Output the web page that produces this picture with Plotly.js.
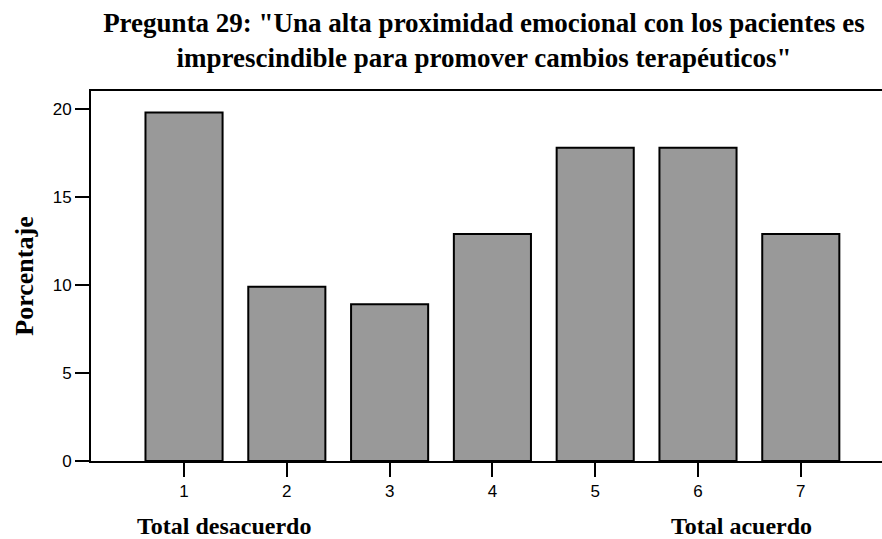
<!DOCTYPE html>
<html>
<head>
<meta charset="utf-8">
<script src="https://cdn.plot.ly/plotly-3.0.1.min.js"></script>
<style>html,body{margin:0;padding:0;background:#fff;}#chart{width:882px;height:539px;}</style>
</head>
<body>
<div id="chart"></div>
<script>
var categories = [1, 2, 3, 4, 5, 6, 7];
var percentages = [19.8, 9.9, 8.9, 12.9, 17.8, 17.8, 12.9];
var yTickValues = [0, 5, 10, 15, 20];
var titleText = 'Pregunta 29: "Una alta proximidad emocional con los pacientes es<br>imprescindible para promover cambios terapéuticos"';
var yTitle = 'Porcentaje';
var leftLabel = 'Total desacuerdo';
var rightLabel = 'Total acuerdo';

var serif = '"Liberation Serif", "Times New Roman", serif';
var sans = '"Liberation Sans", Arial, sans-serif';

var trace = {
  type: 'bar',
  x: categories,
  y: percentages,
  marker: {color: '#999999', line: {color: '#000000', width: 2}},
  hoverinfo: 'x+y'
};

var layout = {
  width: 882, height: 539,
  margin: {l: 91, r: 0, t: 91, b: 78, pad: 0},
  paper_bgcolor: '#ffffff', plot_bgcolor: '#ffffff',
  bargap: 0.25,
  showlegend: false,
  title: {
    text: titleText,
    font: {family: serif, size: 27, color: '#000000', weight: 'bold'},
    x: 484 / 882, xanchor: 'center', xref: 'container',
    y: 1 - 32/539, yanchor: 'top', yref: 'container'
  },
  xaxis: {
    range: [0.095, 7.79],
    tickmode: 'array', tickvals: categories, ticktext: categories.map(String),
    ticks: 'outside', ticklen: 14, tickwidth: 2, tickcolor: '#000',
    showline: true, linecolor: '#000', linewidth: 2, mirror: true,
    showgrid: false, zeroline: false,
    tickfont: {family: sans, size: 17, color: '#000'}
  },
  yaxis: {
    range: [0, 21.02],
    tickmode: 'array', tickvals: yTickValues,
    ticks: 'outside', ticklen: 14, tickwidth: 2, tickcolor: '#000',
    showline: true, linecolor: '#000', linewidth: 2,
    showgrid: false, zeroline: false,
    tickfont: {family: sans, size: 17, color: '#000'},
    title: {text: yTitle, font: {family: serif, size: 26, color: '#000', weight: 'bold'}, standoff: 12}
  },
  annotations: [
    {text: leftLabel, xref: 'paper', yref: 'paper', x: (224 - 91) / 791, y: -0.176, xanchor: 'center', yanchor: 'middle', showarrow: false,
     font: {family: serif, size: 24, color: '#000', weight: 'bold'}},
    {text: rightLabel, xref: 'paper', yref: 'paper', x: (741 - 91) / 791, y: -0.176, xanchor: 'center', yanchor: 'middle', showarrow: false,
     font: {family: serif, size: 24, color: '#000', weight: 'bold'}}
  ]
};

Plotly.newPlot('chart', [trace], layout, {displayModeBar: false, staticPlot: true});
</script>
</body>
</html>
